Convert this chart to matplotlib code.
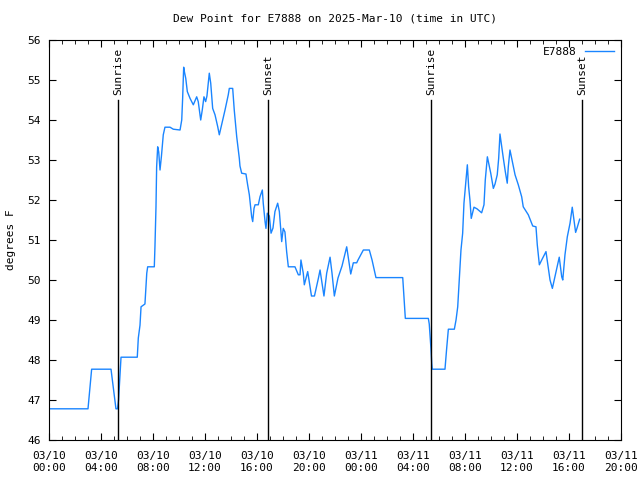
import matplotlib
matplotlib.use("Agg")
import matplotlib.pyplot as plt
import matplotlib.dates as mdates
import pandas as pd
import numpy as np

# ── data: hours after 2025-03-10 00:00 UTC, dew point in F ──────────────────
hours = [
    0, 3.0, 3.28, 4.77, 5.15, 5.27, 5.35, 5.54, 6.79, 6.87, 7.0, 7.08, 7.38,
    7.52, 7.59, 8.1, 8.15, 8.23, 8.28, 8.36, 8.44, 8.54, 8.65, 8.79, 8.92,
    9.31, 9.56, 10.08, 10.21, 10.28, 10.36, 10.42, 10.52, 10.64, 10.85, 11.1,
    11.36, 11.48, 11.67, 11.79, 11.92, 12.05, 12.15, 12.33, 12.44, 12.59,
    12.77, 12.98, 13.1, 13.28, 13.54, 13.79, 13.87, 14.13, 14.25, 14.44,
    14.64, 14.69, 14.82, 15.15, 15.28, 15.41, 15.59, 15.67, 15.77, 15.85,
    16.1, 16.23, 16.41, 16.48, 16.62, 16.69, 16.79, 16.95, 17.08, 17.23,
    17.38, 17.59, 17.72, 17.9, 18.02, 18.15, 18.28, 18.41, 18.92, 19.18,
    19.31, 19.38, 19.56, 19.64, 19.9, 20.19, 20.42, 20.72, 20.85, 21.15,
    21.36, 21.62, 21.77, 21.95, 22.23, 22.54, 22.9, 23.21, 23.41, 23.67,
    23.77, 24.18, 24.64, 24.85, 25.15, 27.21, 27.31, 27.41, 29.18, 29.25,
    29.38, 29.44, 29.48, 30.46, 30.59, 30.72, 31.18, 31.31, 31.44, 31.56,
    31.69, 31.82, 31.92, 32.02, 32.18, 32.28, 32.38, 32.48, 32.58, 32.69,
    32.92, 33.28, 33.46, 33.56, 33.72, 33.82, 33.98, 34.18, 34.31, 34.48,
    34.59, 34.69, 34.77, 34.95, 35.1, 35.25, 35.33, 35.46, 35.59, 35.85,
    36.1, 36.36, 36.48, 36.87, 37.21, 37.46, 37.56, 37.72, 37.9, 38.23,
    38.41, 38.54, 38.72, 38.92, 39.25, 39.44, 39.52, 39.69, 39.87, 40.08,
    40.25, 40.38, 40.51, 40.62, 40.82,
]
dewpoint = [
    46.78, 46.78, 47.77, 47.77, 46.78, 46.78, 47.0, 48.07, 48.07, 48.55,
    48.87, 49.33, 49.4, 50.17, 50.33, 50.33, 50.83, 51.83, 52.83, 53.33,
    53.2, 52.75, 53.1, 53.63, 53.82, 53.82, 53.77, 53.75, 54.0, 54.54,
    55.32, 55.2, 55.04, 54.71, 54.54, 54.38, 54.58, 54.46, 54.0, 54.25,
    54.58, 54.46, 54.6, 55.17, 54.92, 54.29, 54.13, 53.83, 53.63, 53.88,
    54.25, 54.63, 54.79, 54.79, 54.25, 53.58, 53.04, 52.85, 52.67, 52.65,
    52.38, 52.13, 51.58, 51.46, 51.79, 51.88, 51.88, 52.08, 52.25, 51.92,
    51.46, 51.29, 51.67, 51.6, 51.17, 51.3, 51.71, 51.92, 51.71, 50.96,
    51.29, 51.2, 50.71, 50.33, 50.33, 50.13, 50.13, 50.5, 50.17, 49.88,
    50.21, 49.6, 49.6, 50.04, 50.25, 49.6, 50.17, 50.57, 50.17, 49.6,
    50.05, 50.35, 50.83, 50.15, 50.43, 50.43, 50.5, 50.75, 50.75, 50.5,
    50.06, 50.06, 49.54, 49.04, 49.04, 48.9, 48.29, 47.92, 47.77, 47.77,
    48.29, 48.77, 48.77, 49.0, 49.33, 50.0, 50.75, 51.17, 51.92, 52.29,
    52.88, 52.33, 52.0, 51.54, 51.67, 51.82, 51.78, 51.68, 51.88, 52.5,
    53.08, 52.92, 52.67, 52.29, 52.4, 52.63, 53.04, 53.65, 53.46, 53.04,
    52.71, 52.42, 52.83, 53.25, 53.04, 52.63, 52.38, 52.08, 51.83, 51.63,
    51.35, 51.33, 50.88, 50.38, 50.5, 50.71, 50.29, 50.0, 49.79, 50.08,
    50.57, 50.08, 50.0, 50.63, 51.08, 51.42, 51.82, 51.5, 51.19, 51.3,
    51.52,
]

sun_labels = ["Sunrise", "Sunset", "Sunrise", "Sunset"]
sun_hours = [5.31, 16.85, 29.38, 41.0]

start = pd.Timestamp("2025-03-10 00:00")
times = start + pd.to_timedelta(hours, unit="h")
sun_times = start + pd.to_timedelta(sun_hours, unit="h")

plt.rcParams["font.family"] = "DejaVu Sans Mono"

fig = plt.figure(figsize=(6.4, 4.8), dpi=100)
ax = fig.add_axes([49 / 640, 40 / 480, 572 / 640, 400 / 480])

ax.plot(times, dewpoint, color="#1a85ff", linewidth=1, label="E7888")

for lab, t in zip(sun_labels, sun_times):
    ax.plot([t, t], [46, 54.5], color="black", linewidth=1)
    ax.text(t, 54.62, lab, rotation=90, ha="center", va="bottom", fontsize=8)

ax.set_xlim(start, start + pd.Timedelta(hours=44))
ax.set_ylim(46, 56)
ax.set_yticks(np.arange(46, 57, 1))
ax.xaxis.set_major_locator(mdates.HourLocator(byhour=range(0, 24, 4)))
ax.xaxis.set_minor_locator(mdates.HourLocator())
ax.xaxis.set_major_formatter(mdates.DateFormatter("%m/%d\n%H:%M"))

ax.tick_params(axis="both", which="both", direction="in",
               top=True, right=True, labelsize=8)
ax.tick_params(which="major", length=5)
ax.tick_params(which="minor", length=3)
ax.tick_params(axis="x", pad=8)
ax.tick_params(axis="y", pad=6)

ax.set_ylabel("degrees F", fontsize=8, labelpad=8)
ax.set_title("Dew Point for E7888 on 2025-Mar-10 (time in UTC)",
             fontsize=8, pad=13)

ax.legend(loc="upper right", frameon=False, fontsize=8,
          markerfirst=False, handlelength=2.6, borderaxespad=0.2)

fig.savefig("out.png", dpi=100)
